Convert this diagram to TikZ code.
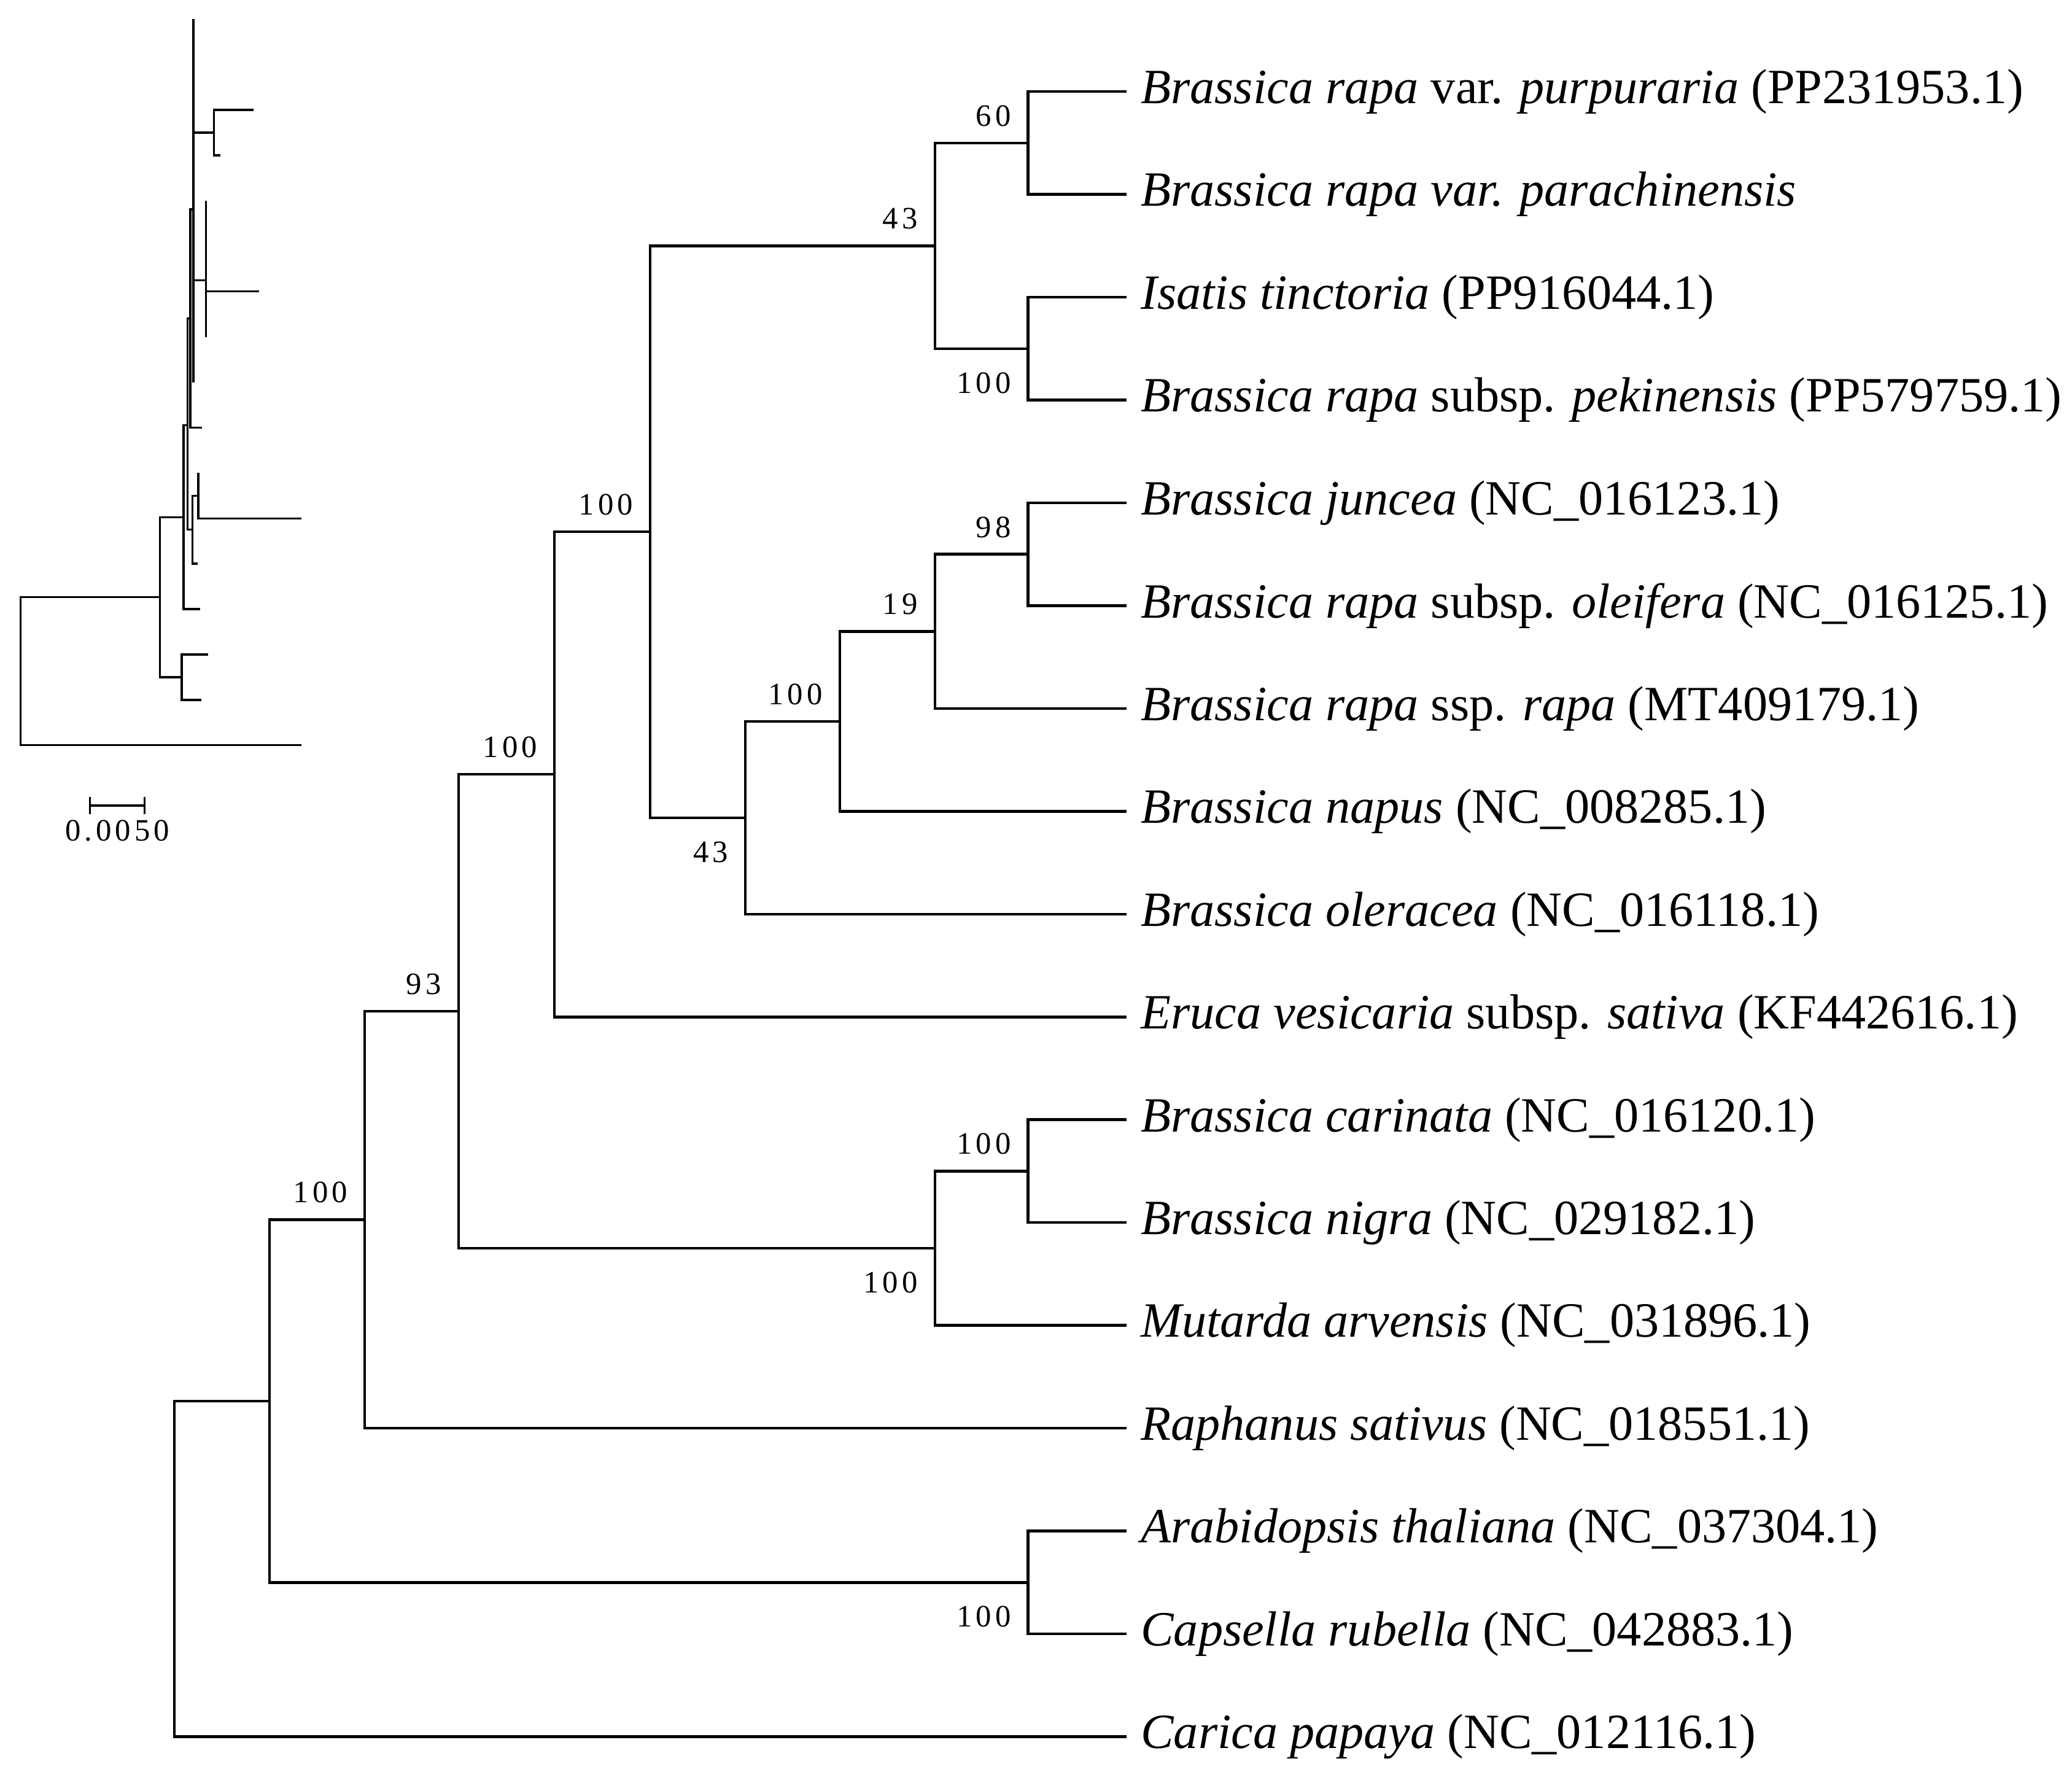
\documentclass[tikz,border=0pt]{standalone}
\usepackage{fontspec}
\setmainfont{Liberation Serif}
\newfontfamily\bsfont{Liberation Serif}[LetterSpace=12]
\usetikzlibrary{arrows.meta}

\begin{document}
\begin{tikzpicture}[x=0.01cm, y=-0.01cm, line width=0.6pt,
  leaf/.style={anchor=west, inner xsep=2.8pt, inner ysep=0pt, font=\fontsize{10.6}{12}\selectfont},
  bs/.style={inner sep=0pt, font=\bsfont\fontsize{6.7}{8}\selectfont},
  bsup/.style={bs, anchor=south east, xshift=-1.2mm, yshift=1.15mm},
  bsdown/.style={bs, anchor=north east, xshift=-1.2mm, yshift=-1.7mm},
  small tree/.style={line width=0.45pt}]
\useasboundingbox (0,0) rectangle (1568,1355);

\foreach \i/\t in {
  1/{\textit{Brassica rapa} var. \textit{purpuraria} (PP231953.1)},
  2/{\textit{Brassica rapa var. parachinensis}},
  3/{\textit{Isatis tinctoria} (PP916044.1)},
  4/{\textit{Brassica rapa} subsp. \textit{pekinensis} (PP579759.1)},
  5/{\textit{Brassica juncea} (NC\_016123.1)},
  6/{\textit{Brassica rapa} subsp. \textit{oleifera} (NC\_016125.1)},
  7/{\textit{Brassica rapa} ssp. \textit{rapa} (MT409179.1)},
  8/{\textit{Brassica napus} (NC\_008285.1)},
  9/{\textit{Brassica oleracea} (NC\_016118.1)},
  10/{\textit{Eruca vesicaria} subsp. \textit{sativa} (KF442616.1)},
  11/{\textit{Brassica carinata} (NC\_016120.1)},
  12/{\textit{Brassica nigra} (NC\_029182.1)},
  13/{\textit{Mutarda arvensis} (NC\_031896.1)},
  14/{\textit{Raphanus sativus} (NC\_018551.1)},
  15/{\textit{Arabidopsis thaliana} (NC\_037304.1)},
  16/{\textit{Capsella rubella} (NC\_042883.1)},
  17/{\textit{Carica papaya} (NC\_012116.1)}} {
  \node[leaf] (l\i) at (852.5, {69.3+(\i-1)*77.8}) {\t};
}

\coordinate (n12) at (778, 108.2);
\coordinate (n34) at (778, 263.8);
\coordinate (n1234) at (707.5, 186);
\coordinate (n56) at (778, 419.4);
\coordinate (n567) at (707.5, 477.75);
\coordinate (n5678) at (635.5, 545.8);
\coordinate (n59) at (564, 618.8);
\coordinate (nA) at (492, 402.4);
\coordinate (nB) at (419.5, 585.9);
\coordinate (n1112) at (778, 886.2);
\coordinate (n1113) at (707.5, 944.6);
\coordinate (nC) at (347, 765.2);
\coordinate (nD) at (276, 922.9);
\coordinate (n1516) at (778, 1197.4);
\coordinate (nE) at (204, 1060.2);
\coordinate (root) at (132, 1187.1);

\foreach \p/\c in {n12/l1.west, n12/l2.west, n34/l3.west, n34/l4.west,
  n1234/n12, n1234/n34, n56/l5.west, n56/l6.west, n567/n56, n567/l7.west,
  n5678/n567, n5678/l8.west, n59/n5678, n59/l9.west, nA/n1234, nA/n59,
  nB/nA, nB/l10.west, n1112/l11.west, n1112/l12.west, n1113/n1112, n1113/l13.west,
  nC/nB, nC/n1113, nD/nC, nD/l14.west, n1516/l15.west, n1516/l16.west,
  nE/nD, nE/n1516, root/nE, root/l17.west} {
  \draw (\p) |- (\c);
}

\node[bsup] (b12) at (n12) {60};
\node[bsdown] (b34) at (n34) {100};
\node[bsup] (b1234) at (n1234) {43};
\node[bsup] (b56) at (n56) {98};
\node[bsup] (b567) at (n567) {19};
\node[bsup] (b5678) at (n5678) {100};
\node[bsdown] (b59) at (n59) {43};
\node[bsup] (bA) at (nA) {100};
\node[bsup] (bB) at (nB) {100};
\node[bsup] (b1112) at (n1112) {100};
\node[bsdown] (b1113) at (n1113) {100};
\node[bsup] (bC) at (nC) {93};
\node[bsup] (bD) at (nD) {100};
\node[bsdown] (b1516) at (n1516) {100};

\begin{scope}[small tree]
  \foreach \i/\x in {1/146.4, 2/146.4, 3/191.7, 4/167, 5/155.8, 6/155.8, 7/196, 8/155.8, 9/146.4,
    10/153, 11/150, 12/228, 13/149.5, 14/151.5, 15/157.5, 16/152.5, 17/228} {
    \coordinate (t\i) at (\x, {14.6+(\i-1)*34.33});
  }
  \coordinate (i12) at (146.4, 31.75);
  \coordinate (i34) at (161.8, 100.45);
  \coordinate (i1234) at (146.4, 66.1);
  \coordinate (i56) at (155.8, 169.1);
  \coordinate (i567) at (155.8, 194.85);
  \coordinate (i5678) at (155.8, 212);
  \coordinate (i59) at (146.4, 250.6);
  \coordinate (iG) at (146.4, 158.4);
  \coordinate (iE) at (144, 241);
  \coordinate (i1112) at (150, 375.05);
  \coordinate (iF) at (145.6, 400.8);
  \coordinate (iD) at (142, 321.7);
  \coordinate (iB) at (139, 391.3);
  \coordinate (iC) at (137.5, 512.4);
  \coordinate (iA) at (121, 451.85);
  \coordinate (iR) at (15.5, 507.9);
  \foreach \p/\c in {i12/t1, i12/t2, i34/t3, i34/t4, i1234/i12, i1234/i34,
    i56/t5, i56/t6, i567/i56, i567/t7, i5678/i567, i5678/t8, i59/i5678, i59/t9,
    iG/i1234, iG/i59, iE/iG, iE/t10, i1112/t11, i1112/t12, iF/i1112, iF/t13,
    iD/iE, iD/iF, iB/iD, iB/t14, iC/t15, iC/t16, iA/iB, iA/iC, iR/iA, iR/t17} {
    \draw (\p) |- (\c);
  }
  \coordinate (sb1) at (67.4, 609.6);
  \coordinate (sb2) at (110.3, 609.6);
  \draw[{Bar[width=3.6pt]}-{Bar[width=3.6pt]}] (sb1) -- (sb2);
  \node[bs, anchor=north] (sbtext) at (88.8, 620) {0.0050};
\end{scope}
\end{tikzpicture}
\end{document}
